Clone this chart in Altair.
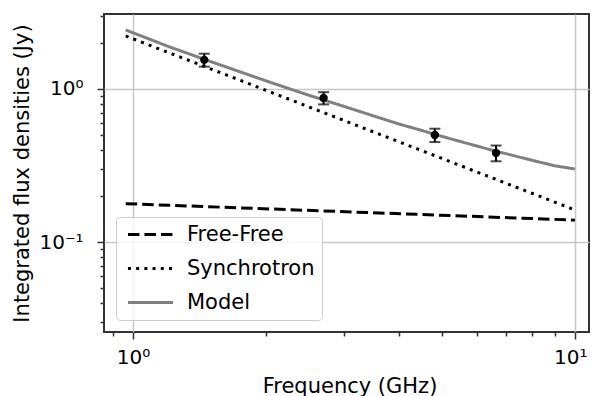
import altair as alt
import pandas as pd

# Observed flux densities
freq_obs = [1.45, 2.70, 4.82, 6.63]
flux_obs = [1.55, 0.873, 0.50, 0.382]
flux_err = [0.15, 0.08, 0.05, 0.045]

# Model components
ff_freq = [0.963, 10.0]
ff_flux = [0.178, 0.139]
sync_freq = [0.963, 10.0]
sync_flux = [2.22, 0.162]
model_freq = [0.963, 1.2, 1.5, 2.0, 2.5, 3.0, 3.5, 4.0, 4.5, 5.0, 5.5, 6.0, 6.5, 7.0, 8.0, 9.0, 10.0]
model_flux = [2.43, 1.90, 1.51, 1.13, 0.91, 0.77, 0.667, 0.59, 0.536, 0.49, 0.454, 0.424, 0.398, 0.377, 0.342, 0.315, 0.30]

series_names = ["Free-Free", "Synchrotron", "Model"]
series_colors = ["black", "black", "gray"]
series_dash = [[11.5, 5], [3, 5.2], [1, 0]]

x_ticks = [0.9, 1, 2, 3, 4, 5, 6, 7, 8, 9, 10]
y_ticks = [0.03, 0.04, 0.05, 0.06, 0.07, 0.08, 0.09, 0.1,
           0.2, 0.3, 0.4, 0.5, 0.6, 0.7, 0.8, 0.9, 1, 2, 3]

lines = pd.DataFrame({
    "series": ["Free-Free"] * len(ff_freq) + ["Synchrotron"] * len(sync_freq) + ["Model"] * len(model_freq),
    "freq": ff_freq + sync_freq + model_freq,
    "flux": ff_flux + sync_flux + model_flux,
})
obs = pd.DataFrame({
    "freq": freq_obs,
    "flux": flux_obs,
    "lo": [f - e for f, e in zip(flux_obs, flux_err)],
    "hi": [f + e for f, e in zip(flux_obs, flux_err)],
})

xscale = alt.Scale(type="log", domain=[0.86, 10.76], nice=False)
yscale = alt.Scale(type="log", domain=[0.02582, 3.09], nice=False)

x_axis = alt.Axis(
    values=x_ticks,
    title="Frequency (GHz)",
    labelExpr="datum.value == 1 ? '10⁰' : datum.value == 10 ? '10¹' : ''",
    gridOpacity={"condition": {"test": "datum.value == 1 || datum.value == 10", "value": 1}, "value": 0},
    tickSize={"condition": {"test": "datum.value == 1 || datum.value == 10", "value": 7}, "value": 4},
    labelPadding=8,
    labelBaseline="top",
    labelFlush=16,
    labelFlushOffset=12,
    titleX=245.5,
    titleY=60,
    titleBaseline="alphabetic",
)
y_axis = alt.Axis(
    values=y_ticks,
    title="Integrated flux densities (Jy)",
    labelExpr="datum.value == 1 ? '10⁰' : datum.value == 0.1 ? '10⁻¹' : ''",
    gridOpacity={"condition": {"test": "datum.value == 0.1 || datum.value == 1", "value": 1}, "value": 0},
    tickSize={"condition": {"test": "datum.value == 0.1 || datum.value == 1", "value": 7}, "value": 4},
    labelPadding=14,
    titleX=-82,
    titleBaseline="middle",
)

legend = alt.Legend(
    title=None,
    orient="none",
    legendX=12,
    legendY=203,
    symbolType="M-4,0H4",
    symbolSize=127,
    symbolStrokeWidth=3,
    symbolOffset=17,
    labelFontSize=21,
    labelFont="DejaVu Sans",
    labelColor="black",
    labelOffset=26,
    padding=7,
    rowPadding=12,
    cornerRadius=4,
    strokeColor="#cccccc",
    fillColor="rgba(255,255,255,0.8)",
)

base_x = alt.X("freq:Q", scale=xscale, axis=x_axis)
base_y = alt.Y("flux:Q", scale=yscale, axis=y_axis)

line_layer = alt.Chart(lines).mark_line(strokeWidth=3, clip=True).encode(
    x=base_x,
    y=base_y,
    color=alt.Color("series:N", scale=alt.Scale(domain=series_names, range=series_colors), legend=legend),
    strokeDash=alt.StrokeDash("series:N", scale=alt.Scale(domain=series_names, range=series_dash), legend=legend),
)

err_layer = alt.Chart(obs).mark_rule(color="black", strokeWidth=2).encode(
    x=alt.X("freq:Q", scale=xscale), y=alt.Y("lo:Q", scale=yscale), y2="hi:Q"
)
cap_hi = alt.Chart(obs).mark_tick(color="black", orient="horizontal", size=11, thickness=2).encode(
    x=alt.X("freq:Q", scale=xscale), y=alt.Y("hi:Q", scale=yscale)
)
cap_lo = alt.Chart(obs).mark_tick(color="black", orient="horizontal", size=11, thickness=2).encode(
    x=alt.X("freq:Q", scale=xscale), y=alt.Y("lo:Q", scale=yscale)
)
pts = alt.Chart(obs).mark_point(filled=True, color="black", size=70, opacity=1).encode(
    x=alt.X("freq:Q", scale=xscale), y=alt.Y("flux:Q", scale=yscale)
)

chart = alt.layer(line_layer, err_layer, cap_hi, cap_lo, pts).properties(
    width=485,
    height=318,
    padding={"left": 96, "top": 6, "right": 1, "bottom": 64},
    autosize=alt.AutoSizeParams(type="none"),
).configure(
    font="DejaVu Sans",
).configure_view(
    stroke="#333333", strokeWidth=2,
).configure_axis(
    domain=False,
    labelFontSize=20,
    labelColor="black",
    titleFontSize=21,
    titleFontWeight="normal",
    titleColor="black",
    tickColor="#333333",
    tickWidth=1.5,
    gridColor="#c8c8c8",
    gridWidth=1.5,
    labelOverlap=False,
)

chart.save("out.html", embed_options={"renderer": "svg", "actions": False})
